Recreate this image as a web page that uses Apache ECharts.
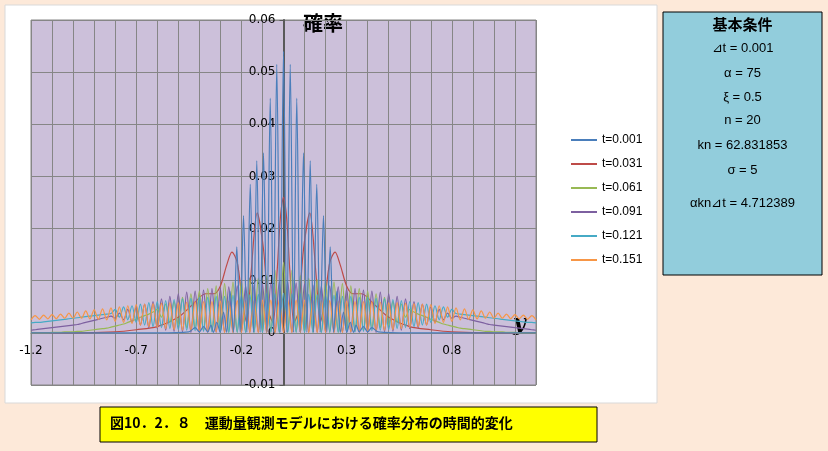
<!DOCTYPE html>
<html><head><meta charset="utf-8">
<script src="https://cdn.jsdelivr.net/npm/echarts@6/dist/echarts.min.js"></script>
<style>html,body{margin:0;padding:0;background:#fde9d9;}#c{width:828px;height:451px;}</style>
</head><body><div id="c"></div>
<script>
const seriesNames = ['t=0.001','t=0.031','t=0.061','t=0.091','t=0.121','t=0.151'];
const colors = ['#4a7ebb','#be4b48','#98b954','#7d60a0','#46aac5','#f79646'];
const blueLeft = [[-1.2,0],[-0.6,0],[-0.45,0.0002],[-0.42,0.001],[-0.4,0.0002],[-0.38,0.0012],[-0.36,0.0002],[-0.345,0.0015],[-0.333,0.0001],[-0.317,0.002],[-0.301,0.0001],[-0.285,0.004],[-0.27,0.0001],[-0.254,0.008],[-0.238,0.0001],[-0.222,0.0165],[-0.206,0.0001],[-0.19,0.0225],[-0.174,0.0001],[-0.158,0.0285],[-0.142,0.0001],[-0.127,0.033],[-0.111,0.0001],[-0.095,0.0345],[-0.079,0.0001],[-0.063,0.045],[-0.048,0.0001],[-0.032,0.0515],[-0.016,0.0001],[0,0.054]];
const redLeft = [[-1.2,0],[-1.0,0],[-0.8,0.0002],[-0.7,0.0006],[-0.6,0.0012],[-0.5,0.003],[-0.43,0.0055],[-0.37,0.0075],[-0.33,0.0075],[-0.3,0.009],[-0.27,0.013],[-0.245,0.0155],[-0.22,0.0135],[-0.195,0.006],[-0.175,0.002],[-0.155,0.011],[-0.125,0.023],[-0.095,0.016],[-0.07,0.004],[-0.05,0.002],[-0.03,0.012],[-0.015,0.022],[0,0.026]];
const greenLeft = [0,0,0,0,0,0.0001,0.0001,0.0001,0.0002,0.0002,0.0002,0.0003,0.0003,0.0004,0.0005,0.0006,0.0007,0.0008,0.0009,0.0011,0.0013,0.0015,0.0017,0.002,0.0023,0.0026,0.003,0.0033,0.0036,0.004,0.0045,0.003,0.0055,0.002,0.006,0.0015,0.0068,0.001,0.0075,0.0008,0.008,0.0005,0.0085,0.0003,0.009,0.0002,0.0095,0.0001,0.0098,0.0001,0.01,0.0001,0.0102,0.0001,0.0105,0.0001,0.011,0.0001,0.012,0.0001];
const greenCenter = 0.0135;
const purpleLeft = [0.0005,0.0006,0.0007,0.0008,0.0009,0.001,0.0011,0.0012,0.0013,0.0014,0.0015,0.0016,0.0018,0.002,0.0022,0.0024,0.0026,0.0028,0.003,0.0032,0.0028,0.0038,0.0025,0.0045,0.002,0.005,0.0015,0.0055,0.001,0.006,0.0008,0.0065,0.0005,0.007,0.0003,0.0075,0.0002,0.0078,0.0001,0.008,0.0001,0.0082,0.0001,0.0085,0.0001,0.0085,0.0001,0.0088,0.0001,0.009,0.0001,0.009,0.0001,0.0092,0.0001,0.0094,0.0001,0.0096,0.0001,0.0098];
const purpleCenter = 0.0001;
const cyanLeft = [0.0019,0.002,0.002,0.0021,0.0022,0.0023,0.0024,0.0025,0.0026,0.0027,0.0028,0.0029,0.003,0.0031,0.0032,0.0033,0.0034,0.0035,0.0036,0.0037,0.0045,0.003,0.005,0.0025,0.0052,0.002,0.0055,0.0015,0.0058,0.0012,0.006,0.001,0.0062,0.0008,0.0064,0.0006,0.0065,0.0005,0.0066,0.0004,0.0068,0.0003,0.0068,0.0002,0.007,0.0002,0.007,0.0001,0.0072,0.0001,0.0072,0.0001,0.0073,0.0001,0.0074,0.0001,0.0075,0.0001,0.0075,0.0001];
const cyanCenter = 0.0076;
const orangeLeft = [0.0025,0.0033,0.0026,0.0034,0.0027,0.0035,0.0027,0.0036,0.0028,0.0038,0.0028,0.004,0.0028,0.0042,0.0027,0.0044,0.0026,0.0046,0.0025,0.0048,0.0022,0.005,0.002,0.0052,0.0018,0.0054,0.0015,0.0055,0.0012,0.0056,0.001,0.0057,0.0008,0.0058,0.0006,0.0058,0.0005,0.0059,0.0004,0.006,0.0003,0.006,0.0002,0.006,0.0002,0.0061,0.0001,0.0061,0.0001,0.0062,0.0001,0.0062,0.0001,0.0062,0.0001,0.0063,0.0001,0.0063,0.0001,0.0064];
const orangeCenter = 0.0001;
const infoLines = ['⊿t = 0.001','α = 75','ξ = 0.5','n = 20','kn = 62.831853','σ = 5','','αkn⊿t = 4.712389'];

function mirrorPairs(left){const r=left.slice();for(let i=left.length-2;i>=0;i--)r.push([-left[i][0],left[i][1]]);return r;}
function gridSeries(left,center){const vals=left.concat([center],left.slice().reverse());return vals.map((v,i)=>[+(-1.2+0.02*i).toFixed(2),v]);}
const data=[mirrorPairs(blueLeft),mirrorPairs(redLeft),gridSeries(greenLeft,greenCenter),gridSeries(purpleLeft,purpleCenter),gridSeries(cyanLeft,cyanCenter),gridSeries(orangeLeft,orangeCenter)];

const GW=505, GH=365;
const chart=echarts.init(document.getElementById('c'));
const infoChildren=[{type:'rect',shape:{x:0,y:0,width:159,height:263},style:{fill:'#92cddc',stroke:'#000',lineWidth:1}},
  {type:'text',x:79.5,y:5,style:{text:'基本条件',font:'bold 15px "Noto Sans CJK JP"',fill:'#000',align:'center'}}];
const infoY=[30,55,79,102,127,152,177,185];
infoLines.forEach((t,i)=>{ if(t) infoChildren.push({type:'text',x:79.5,y:infoY[i],style:{text:t,font:'13px "Liberation Sans"',fill:'#000',align:'center'}});});
chart.setOption({
  animation:false,
  color:colors,
  graphic:[
    {type:'rect',shape:{x:5,y:5,width:652,height:398},style:{fill:'#fff',stroke:'#d9d9d9'},z:-10},
    {type:'group',x:663,y:12,children:infoChildren},
    {type:'group',x:100,y:407,children:[
      {type:'rect',shape:{x:0,y:0,width:497,height:35},style:{fill:'#ffff00',stroke:'#000',lineWidth:1}},
      {type:'text',x:10,y:9,style:{text:'図10．2．８　運動量観測モデルにおける確率分布の時間的変化',font:'bold 14px "Noto Sans CJK JP"',fill:'#000'}}]},
    {type:'text',x:303,y:13,style:{text:'確率',font:'bold 20px "Noto Sans CJK JP"',fill:'#000'}},
    {type:'text',x:513,y:313,style:{text:'y',font:'italic bold 22px "DejaVu Serif"',fill:'#000'}}
  ],
  grid:{left:31,top:20,width:GW,height:GH,show:true,backgroundColor:'#ccc0da',borderColor:'#868686'},
  legend:{orient:'vertical',left:566,top:129,itemGap:12,itemWidth:26,itemHeight:2,icon:'rect',data:seriesNames,textStyle:{fontSize:12,color:'#000',fontFamily:'Liberation Sans'}},
  xAxis:{type:'value',min:-1.2,max:1.2,interval:0.1,offset:-GH*0.01/0.07,
    axisLine:{onZero:false,lineStyle:{color:'#868686'}},axisTick:{show:false},
    splitLine:{show:true,lineStyle:{color:'#868686',width:1}},
    axisLabel:{margin:12,color:'#000',fontSize:12,fontFamily:'DejaVu Sans',formatter:v=>{const k=(v+1.2)/0.5;return Math.abs(k-Math.round(k))<1e-6?String(+v.toFixed(1)):'';}}},
  yAxis:{type:'value',min:-0.01,max:0.06,interval:0.01,offset:-GW/2,
    axisLine:{show:true,onZero:false,lineStyle:{color:'#595959',width:2}},axisTick:{show:true,length:4,lineStyle:{color:'#595959'}},
    splitLine:{show:true,lineStyle:{color:'#868686',width:1}},
    axisLabel:{color:'#000',fontSize:12,fontFamily:'DejaVu Sans',formatter:v=>String(+v.toFixed(2))}},
  series:data.map((d,i)=>({name:seriesNames[i],type:'line',data:d,showSymbol:false,smooth:0.3,lineStyle:{width:1.2},z:i===0?3:2}))
});
</script></body></html>
